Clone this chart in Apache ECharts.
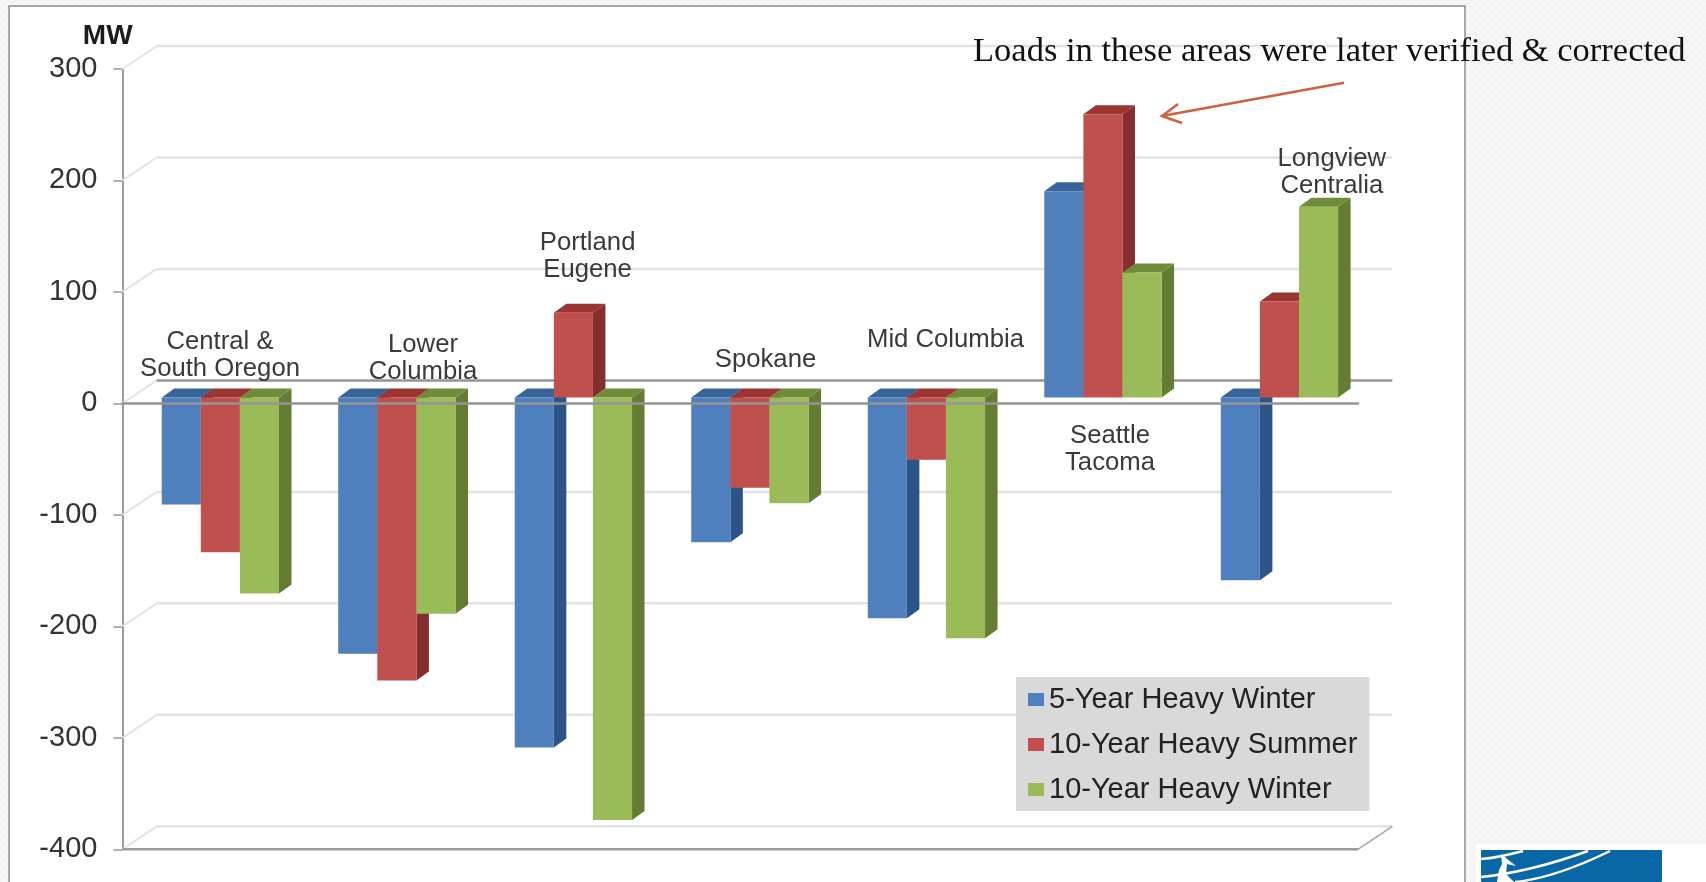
<!DOCTYPE html>
<html>
<head>
<meta charset="utf-8">
<style>html,body{margin:0;padding:0;background:#f5f5f5}#c{width:1706px;height:882px}</style>
<script src="https://cdn.jsdelivr.net/npm/echarts@6/dist/echarts.min.js"></script>
</head>
<body>
<div id="c"></div>
<script>
const categories = ['Central &\nSouth Oregon', 'Lower\nColumbia', 'Portland\nEugene', 'Spokane', 'Mid Columbia', 'Seattle\nTacoma', 'Longview\nCentralia'];
const seriesNames = ['5-Year Heavy Winter', '10-Year Heavy Summer', '10-Year Heavy Winter'];
const fiveYearWinter = [-96, -230, -314, -130, -198, 185, -164];
const tenYearSummer = [-139, -254, 76, -81, -56, 254, 86];
const tenYearWinter = [-176, -194, -379, -95, -216, 112, 171];
const yTicks = [300, 200, 100, 0, -100, -200, -300, -400];

const font = '"Liberation Sans", Arial, sans-serif';
const palette = [
  { front: '#4f7fbc', side: '#2d5486', top: '#376499' },
  { front: '#c0504d', side: '#842f2d', top: '#9c3431' },
  { front: '#9bbb59', side: '#647d33', top: '#708c3b' }
];
const BAND_W = 0.2215, PLANE_DX = 9.7, PLANE_DY = -6, DEPTH_X = 12.5, DEPTH_Y = 9;
const BACK_DX = 34.3, BACK_DY = -23;

function barSeries(idx, values) {
  return {
    type: 'custom', name: seriesNames[idx], z: 3 + idx, silent: true,
    itemStyle: { color: palette[idx].front },
    encode: { x: 0, y: 1 },
    data: values.map((v, i) => [i, v]),
    renderItem(params, api) {
      const c = palette[idx];
      const w = api.size([1, 0])[0] * BAND_W;
      const zero = api.coord([api.value(0), 0]);
      const val = api.coord([api.value(0), api.value(1)]);
      const x0 = zero[0] + PLANE_DX + (idx - 1.5) * w, x1 = x0 + w;
      const y0 = zero[1] + PLANE_DY, yv = val[1] + PLANE_DY;
      const t = Math.min(y0, yv), b = Math.max(y0, yv);
      const poly = (points, fill) => ({ type: 'polygon', shape: { points }, style: { fill } });
      return { type: 'group', children: [
        poly([[x1, t], [x1 + DEPTH_X, t - DEPTH_Y], [x1 + DEPTH_X, b - DEPTH_Y], [x1, b]], c.side),
        poly([[x0, t], [x0 + DEPTH_X, t - DEPTH_Y], [x1 + DEPTH_X, t - DEPTH_Y], [x1, t]], c.top),
        poly([[x0, t], [x1, t], [x1, b], [x0, b]], c.front)
      ] };
    }
  };
}

const wallSeries = {
  type: 'custom', z: 1, silent: true, encode: { y: 0 }, clip: false,
  data: yTicks.map(v => [v]),
  renderItem(params, api) {
    const v = api.value(0);
    const g = params.coordSys;
    const y = api.coord([0, v])[1];
    const strong = v === 0;
    const stroke = strong ? '#959595' : '#e2e2e2';
    const children = [
      { type: 'line', shape: { x1: g.x, y1: y, x2: g.x + BACK_DX, y2: y + BACK_DY }, style: { stroke: '#e4e4e4', lineWidth: 2 } },
      { type: 'line', shape: { x1: g.x + BACK_DX, y1: y + BACK_DY, x2: g.x + g.width + BACK_DX, y2: y + BACK_DY }, style: { stroke, lineWidth: 2.5 } }
    ];
    if (v === -400) {
      children.push(
        { type: 'line', shape: { x1: g.x, y1: y, x2: g.x + g.width, y2: y }, style: { stroke: '#9a9a9a', lineWidth: 2.5 } },
        { type: 'line', shape: { x1: g.x + g.width, y1: y, x2: g.x + g.width + BACK_DX, y2: y + BACK_DY }, style: { stroke: '#a5a5a5', lineWidth: 1.5 } }
      );
    }
    return { type: 'group', children };
  }
};

// faint woven page texture
const tex = document.createElement('canvas');
tex.width = tex.height = 8;
const tc = tex.getContext('2d');
tc.fillStyle = '#f6f6f6'; tc.fillRect(0, 0, 8, 8);
tc.fillStyle = '#f1f1f1';
for (let i = 0; i < 8; i++) { tc.fillRect(i, i, 1, 1); tc.fillRect(7 - i, i, 1, 1); }

const labelCentres = [[220, 355.5], [423, 358], [587.6, 256], [765.5, 359.7], [945.5, 340], [1110, 449], [1331.8, 172.5]];

const graphics = [
  { type: 'rect', z: -30, shape: { x: 0, y: 0, width: 1706, height: 882 }, style: { fill: { image: tex, repeat: 'repeat' } } },
  { type: 'rect', z: -20, shape: { x: 9, y: 6, width: 1456, height: 890 }, style: { fill: '#ffffff', stroke: '#8c8c8c', lineWidth: 1.5 } },
  { type: 'text', z: 20, style: { text: 'MW', x: 107.7, y: 36, font: 'bold 28px ' + font, fill: '#1c1c1c', textAlign: 'center', textVerticalAlign: 'middle' } },
  { type: 'text', z: 20, style: { text: 'Loads in these areas were later verified & corrected', x: 973, y: 52, font: '34.5px "Liberation Serif", serif', fill: '#111', textAlign: 'left', textVerticalAlign: 'middle' } },
  { type: 'polyline', z: 20, shape: { points: [[1344, 82.7], [1162, 116]] }, style: { stroke: '#d0603f', lineWidth: 2.5, fill: 'none' } },
  { type: 'polyline', z: 20, shape: { points: [[1178, 104], [1162, 116], [1182, 123]] }, style: { stroke: '#d0603f', lineWidth: 2.5, fill: 'none' } },
  { type: 'rect', z: -10, shape: { x: 1476, y: 844, width: 230, height: 38 }, style: { fill: '#ffffff' } },
  { type: 'rect', z: -9, shape: { x: 1481, y: 850, width: 181, height: 32, r: 1 }, style: { fill: '#0a67a6' } },
  { type: 'bezierCurve', z: -8, shape: { x1: 1481, y1: 859, cpx1: 1497, cpy1: 858, x2: 1523, y2: 851 }, style: { stroke: '#fff', lineWidth: 2.5, fill: 'none' } },
  { type: 'bezierCurve', z: -8, shape: { x1: 1481, y1: 877, cpx1: 1530, cpy1: 872, x2: 1588, y2: 851 }, style: { stroke: '#fff', lineWidth: 2.5, fill: 'none' } },
  { type: 'bezierCurve', z: -8, shape: { x1: 1515, y1: 882, cpx1: 1555, cpy1: 878, x2: 1610, y2: 851 }, style: { stroke: '#fff', lineWidth: 2.5, fill: 'none' } },
  { type: 'polygon', z: -8, shape: { points: [[1501, 854], [1516, 866], [1507, 864], [1506, 874], [1514, 882], [1497, 882], [1499, 870], [1502, 864]] }, style: { fill: '#fff' } }
];
categories.forEach((text, i) => {
  graphics.push({ type: 'text', z: 20, style: { text, x: labelCentres[i][0], y: labelCentres[i][1], font: '25.7px ' + font, lineHeight: 27, fill: '#3a3a3a', textAlign: 'center', textVerticalAlign: 'middle' } });
});

const chart = echarts.init(document.getElementById('c'), null, { renderer: 'canvas' });
chart.setOption({
  animation: false,
  backgroundColor: 'transparent',
  grid: { left: 122.4, top: 69, width: 1235.6, height: 780.3, containLabel: false },
  legend: {
    data: seriesNames.map(name => ({ name, icon: 'rect' })),
    orient: 'vertical', left: 1016, top: 677,
    backgroundColor: '#d9d9d9', padding: [8, 12, 7, 12],
    itemWidth: 16, itemHeight: 13, itemGap: 16, selectedMode: false,
    textStyle: { fontFamily: font, fontSize: 29, color: '#222', padding: [0, 0, 0, 0] }
  },
  xAxis: {
    type: 'category', data: categories, z: 10,
    axisLine: { show: true, onZero: true, lineStyle: { color: '#949494', width: 2.5 } },
    axisTick: { show: false }, axisLabel: { show: false }, splitLine: { show: false }
  },
  yAxis: {
    type: 'value', min: -400, max: 300, interval: 100,
    axisLine: { show: true, lineStyle: { color: '#9a9a9a', width: 2 } },
    axisTick: { show: true, length: 9, lineStyle: { color: '#9a9a9a', width: 1.5 } },
    axisLabel: { margin: 25, color: '#333', fontFamily: font, fontSize: 29 },
    splitLine: { show: false }
  },
  graphic: graphics,
  series: [wallSeries, barSeries(0, fiveYearWinter), barSeries(1, tenYearSummer), barSeries(2, tenYearWinter)]
});
</script>
</body>
</html>
